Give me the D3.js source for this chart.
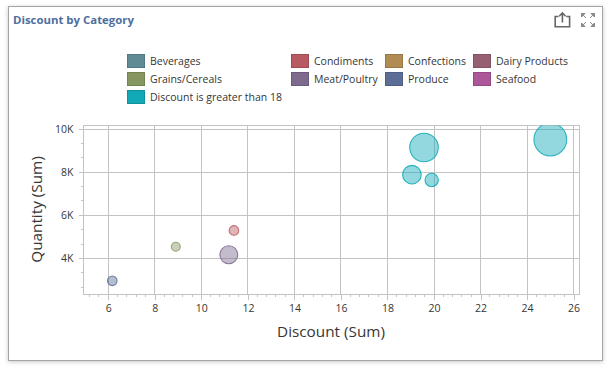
<!DOCTYPE html>
<html>
<head>
<meta charset="utf-8">
<script src="https://cdnjs.cloudflare.com/ajax/libs/d3/7.8.5/d3.min.js"></script>
<style>
html, body { margin: 0; padding: 0; background: #fff; }
text { font-family: "Open Sans", sans-serif; fill: #363636; }
</style>
</head>
<body>
<div class="container"></div>
<script>
const WIDTH = 611;
const HEIGHT = 371;

const legendRows = [
    ['Beverages', 'Condiments', 'Confections', 'Dairy Products'],
    ['Grains/Cereals', 'Meat/Poultry', 'Produce', 'Seafood'],
    ['Discount is greater than 18']
];
const legendColors = {
    'Beverages': '#5f8b95',
    'Condiments': '#b85a62',
    'Confections': '#b08c52',
    'Dairy Products': '#975f72',
    'Grains/Cereals': '#869660',
    'Meat/Poultry': '#7d6a8d',
    'Produce': '#5c6d96',
    'Seafood': '#ab5799',
    'Discount is greater than 18': '#10a9b5'
};

const categories = ['Produce', 'Grains/Cereals', 'Meat/Poultry', 'Condiments', 'Discount is greater than 18', 'Discount is greater than 18', 'Discount is greater than 18', 'Discount is greater than 18'];
const discount = [6.17, 8.9, 11.18, 11.4, 19.05, 19.9, 19.57, 25.0];
const quantity = [2960, 4540, 4170, 5300, 7890, 7640, 9150, 9520];
const weight = [23, 20, 81, 23, 87, 45, 205, 270];

const xTicks = [6, 8, 10, 12, 14, 16, 18, 20, 22, 24, 26];
const yTicks = [4000, 6000, 8000, 10000];
const xMinorTicks = [5.2, 5.6, 6.4, 6.8, 7.2, 7.6, 8.4, 8.8, 9.2, 9.6, 10.4, 10.8, 11.2, 11.6, 12.4, 12.8, 13.2, 13.6, 14.4, 14.8, 15.2, 15.6, 16.4, 16.8, 17.2, 17.6, 18.4, 18.8, 19.2, 19.6, 20.4, 20.8, 21.2, 21.6, 22.4, 22.8, 23.2, 23.6, 24.4, 24.8, 25.2, 25.6];
const yMinorTicks = [2667, 3333, 4667, 5333, 6667, 7333, 8667, 9333];

var xScale = d3.scaleLinear().domain([6, 26]).range([108.3, 573.6]);
var yScale = d3.scaleLinear().domain([4000, 10000]).range([258.4, 129.2]);
var rScale = d3.scaleSqrt().domain([0, 280]).range([0, 16.7]);

var plot = {left: 83.5, right: 579.5, top: 125.5, bottom: 294.5};
var gridColor = '#c3c3c3';

var loadChart = function () {
    var svg = d3.select('.container').append('svg')
        .attr('width', WIDTH)
        .attr('height', HEIGHT)
        .style('display', 'block');

    // frame
    svg.append('rect')
        .attr('x', 8.5).attr('y', 6.5)
        .attr('width', 594).attr('height', 354)
        .attr('fill', '#fff')
        .attr('stroke', '#a3a6a9')
        .style('filter', 'drop-shadow(0 1px 2px rgba(0,0,0,0.22))');

    svg.append('text')
        .attr('x', 13).attr('y', 24)
        .style('font-size', '11.4px')
        .style('font-weight', 700)
        .style('fill', '#4d6f9e')
        .text('Discount by Category');

    // export icon
    var icons = svg.append('g').attr('fill', 'none').attr('stroke', '#666').attr('stroke-width', 1.6);
    icons.append('path').attr('d', 'M558.5 16.5H555.2V26.8H569.6V16.5H566.3');
    icons.append('path').attr('d', 'M562.4 22.5V13.5M559.2 16.2L562.4 13L565.6 16.2');

    // fullscreen icon
    var full = svg.append('g').attr('fill', '#8a8a8a').attr('stroke', '#8a8a8a').attr('stroke-width', 1);
    full.append('path').attr('d', 'M581.5 13.5H585L581.5 17ZM581.5 13.5L586 18');
    full.append('path').attr('d', 'M594.5 13.5H591L594.5 17ZM594.5 13.5L590 18');
    full.append('path').attr('d', 'M581.5 26.5H585L581.5 23ZM581.5 26.5L586 22');
    full.append('path').attr('d', 'M594.5 26.5H591L594.5 23ZM594.5 26.5L590 22');

    // legend
    var legendX = [127, 291, 385, 473];
    var legendY = [54, 72, 90];
    legendRows.forEach(function (row, i) {
        var g = svg.append('g').selectAll('g').data(row).enter().append('g')
            .attr('transform', function (d, j) {
                return 'translate(' + legendX[j] + ',' + legendY[i] + ')';
            });
        g.append('rect')
            .attr('x', 0.5).attr('y', 0.5)
            .attr('width', 17).attr('height', 13)
            .attr('fill', function (d) { return legendColors[d]; })
            .attr('stroke', function (d) { return d3.color(legendColors[d]).darker(0.4); });
        g.append('text')
            .attr('x', 23).attr('y', 11)
            .style('font-size', '10.5px')
            .text(function (d) { return d; });
    });

    // grid
    var grid = svg.append('g').attr('stroke', gridColor).attr('shape-rendering', 'crispEdges');
    grid.selectAll('.gx').data(xTicks).enter().append('line')
        .attr('x1', xScale).attr('x2', xScale)
        .attr('y1', plot.top).attr('y2', plot.bottom);
    grid.selectAll('.gy').data(yTicks).enter().append('line')
        .attr('x1', plot.left).attr('x2', plot.right)
        .attr('y1', yScale).attr('y2', yScale);
    grid.append('rect')
        .attr('x', plot.left).attr('y', plot.top)
        .attr('width', plot.right - plot.left).attr('height', plot.bottom - plot.top)
        .attr('fill', 'none');

    // axes
    var xAxis = d3.axisBottom(xScale).tickValues(xTicks).tickSize(5).tickPadding(5);
    var gx = svg.append('g').attr('transform', 'translate(0,' + plot.bottom + ')').call(xAxis);
    gx.select('.domain').remove();
    gx.selectAll('line').attr('stroke', gridColor).attr('shape-rendering', 'crispEdges');
    gx.selectAll('text').style('font-size', '10.5px').style('font-family', '"Open Sans", sans-serif');
    svg.append('g').attr('stroke', gridColor).attr('shape-rendering', 'crispEdges')
        .selectAll('line').data(xMinorTicks).enter().append('line')
        .attr('x1', xScale).attr('x2', xScale)
        .attr('y1', plot.bottom).attr('y2', plot.bottom + 2.5);

    var yAxis = d3.axisLeft(yScale).tickValues(yTicks).tickSize(5).tickPadding(5)
        .tickFormat(function (d) { return (d / 1000) + 'K'; });
    var gy = svg.append('g').attr('transform', 'translate(' + plot.left + ',0)').call(yAxis);
    gy.select('.domain').remove();
    gy.selectAll('line').attr('stroke', gridColor).attr('shape-rendering', 'crispEdges');
    gy.selectAll('text').style('font-size', '10.5px').style('font-family', '"Open Sans", sans-serif');
    svg.append('g').attr('stroke', gridColor).attr('shape-rendering', 'crispEdges')
        .selectAll('line').data(yMinorTicks).enter().append('line')
        .attr('x1', plot.left - 2.5).attr('x2', plot.left)
        .attr('y1', yScale).attr('y2', yScale);

    svg.append('text')
        .attr('x', 331).attr('y', 337)
        .attr('text-anchor', 'middle')
        .style('font-size', '15.3px')
        .text('Discount (Sum)');
    svg.append('text')
        .attr('transform', 'translate(42,209.5) rotate(-90)')
        .attr('text-anchor', 'middle')
        .style('font-size', '15.3px')
        .text('Quantity (Sum)');

    // bubbles
    svg.append('defs').append('clipPath').attr('id', 'plot-clip').append('rect')
        .attr('x', plot.left).attr('y', plot.top)
        .attr('width', plot.right - plot.left).attr('height', plot.bottom - plot.top);
    svg.append('g').attr('clip-path', 'url(#plot-clip)')
        .selectAll('circle').data(categories).enter().append('circle')
        .attr('cx', function (d, i) { return xScale(discount[i]); })
        .attr('cy', function (d, i) { return yScale(quantity[i]); })
        .attr('r', function (d, i) { return rScale(weight[i]); })
        .attr('fill', function (d) { return d3.color(legendColors[d]).copy({opacity: 0.45}); })
        .attr('stroke', function (d) { return d3.color(legendColors[d]).copy({opacity: 0.85}); })
        .attr('stroke-width', 1.1);
};

window.onload = loadChart;
</script>
</body>
</html>
